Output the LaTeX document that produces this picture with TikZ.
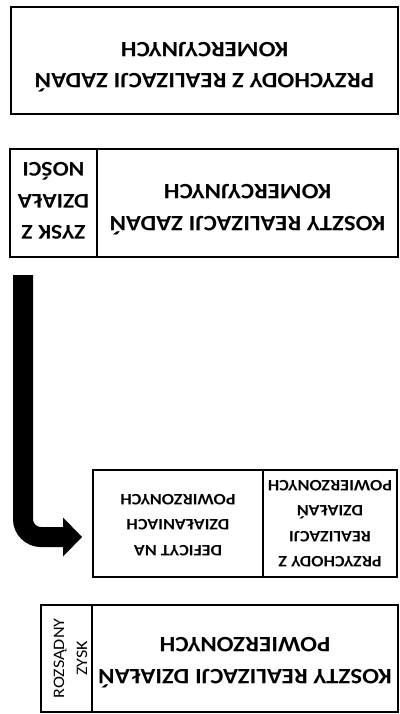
\documentclass[tikz,border=0pt]{standalone}
\usepackage{fontspec}
\setmainfont{Carlito}[FakeStretch=1.13]
\newcommand{\wielki}{\bfseries\fontsize{22}{31.5}\selectfont}
\newcommand{\sredni}{\bfseries\fontsize{21}{31.25}\selectfont}
\newcommand{\maly}{\bfseries\fontsize{16}{25.5}\selectfont}
\usetikzlibrary{arrows.meta}
\tikzset{
  pole/.style={draw,line width=1.8pt,rotate=180,align=center,inner sep=0pt},
  strzala/.style={line width=20pt,rounded corners=18pt,-{Triangle[length=19pt,width=39pt,line width=0pt]}}
}

\begin{document}
\begin{tikzpicture}[x=1pt,y=-1pt]
  \useasboundingbox (0,0) rectangle (399,714);
  % zadania komercyjne
  \node[pole,minimum width=387pt,minimum height=107pt,font=\wielki,text height=45.4pt,text depth=8.5pt]
  (przychodyKom) at (204.5,60.5)
  {PRZYCHODY Z REALIZACJI ZADAŃ\\KOMERCYJNYCH};
  \node[pole,minimum width=87pt,minimum height=108pt,font=\sredni,text height=80.3pt,text depth=0pt]
  (zyskKom) at (53.5,203)
  {ZYSK Z\\DZIAŁA\\NOŚCI};
  \node[pole,minimum width=301pt,minimum height=108pt,font=\wielki,text height=45.4pt,text depth=8.5pt]
  (kosztyKom) at (247.5,203)
  {KOSZTY REALIZACJI ZADAŃ\\KOMERCYJNYCH};
  % dzialania powierzone
  \node[pole,minimum width=170pt,minimum height=107pt,font=\maly,text height=61.1pt,text depth=3pt]
  (deficyt) at (178,523.5)
  {DEFICYT NA\\DZIAŁANIACH\\POWIRZONYCH};
  \node[pole,minimum width=134pt,minimum height=107pt,font=\maly,text height=86.6pt,text depth=0pt]
  (przychodyPow) at (330,523.5)
  {PRZYCHODY Z\\REALIZACJI\\DZIAŁAŃ\\POWIERZONYCH};
  \node[pole,rotate=270,minimum width=107pt,minimum height=51pt,font=\fontsize{16}{23}\selectfont,text height=41.1pt,text depth=0pt]
  (zyskPow) at (66.5,658.5)
  {ROZSĄDNY\\ZYSK};
  \node[pole,minimum width=306pt,minimum height=107pt,font=\wielki,text height=45.4pt,text depth=4pt]
  (kosztyPow) at (245,658.5)
  {KOSZTY REALIZACJI DZIAŁAŃ\\POWIERZONYCH};
  % strzalka
  \coordinate (strzalaStart) at (23,275);
  \coordinate (strzalaKoniec) at (82,537);
  \draw[strzala] (strzalaStart) |- (strzalaKoniec);
\end{tikzpicture}
\end{document}
